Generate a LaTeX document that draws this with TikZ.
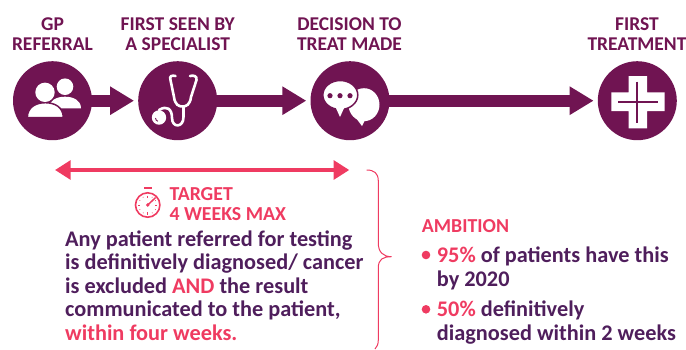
\documentclass[tikz,border=0pt]{standalone}
\usepackage{fontspec}
\setmainfont{Carlito}
\usepackage{xcolor}
\usetikzlibrary{arrows.meta}
\definecolor{plum}{HTML}{701452}
\definecolor{grape}{HTML}{4F1E5C}
\definecolor{coral}{HTML}{EF3B61}
\tikzset{
  stage/.style={circle, fill=plum, minimum size=79pt, inner sep=0pt},
  stagelabel/.style={anchor=base, align=center, text=plum, inner sep=0pt, font=\bfseries\fontsize{19.5}{19.4}\selectfont},
  flow/.style={draw=plum, line width=11.7pt, shorten <=-1.5pt, shorten >=4pt, -{Triangle[length=24pt,width=27pt]}},
  span/.style={draw=coral, line width=4pt, {Triangle[length=15.7pt,width=18.7pt]}-{Triangle[length=15.7pt,width=18.7pt]}},
  bodytext/.style={anchor=base west, align=left, text=grape, inner sep=0pt, font=\bfseries\fontsize{22.3}{23.4}\selectfont},
  headtext/.style={anchor=base west, align=left, text=coral, inner sep=0pt, font=\bfseries\fontsize{19.8}{20}\selectfont},
  dot/.style={circle, fill=coral, minimum size=8.6pt, inner sep=0pt}
}
\begin{document}
\begin{tikzpicture}[x=1pt, y=-1pt]
  \useasboundingbox (0,0) rectangle (686,349);

  \node[stage] (gp) at (52.5,100.7) {};
  \node[stage] (specialist) at (177.7,100.7) {};
  \node[stage] (decision) at (350,100.7) {};
  \node[stage] (treatment) at (637.3,100.7) {};

  \node[stagelabel] (gplabel) at (52.5,50) {GP\\REFERRAL};
  \node[stagelabel] (specialistlabel) at (177.7,50) {FIRST SEEN BY\\A SPECIALIST};
  \node[stagelabel] (decisionlabel) at (349.5,50) {DECISION TO\\TREAT MADE};
  \node[stagelabel] (treatmentlabel) at (637,50) {FIRST\\TREATMENT};

  \draw[flow] (gp) -- (specialist);
  \draw[flow] (specialist) -- (decision);
  \draw[flow] (decision) -- (treatment);

  % people
  \fill[white] (65,86.7) circle (8.3);
  \fill[white] (81,108.3) .. controls (81,100) and (73,96.7) .. (65,96.7) .. controls (57,96.7) and (49,100) .. (49,108.3) -- cycle;
  \fill[white, draw=plum, line width=1.5pt] (27.3,117.7) .. controls (27.3,107) and (36,102.7) .. (45.3,102.7) .. controls (54.6,102.7) and (63.3,107) .. (63.3,117.7) -- cycle;
  \fill[plum] (26,117.7) rectangle (65,120);
  \fill[white] (45,92.3) circle (9.7);

  % stethoscope
  \draw[white, line width=2.6pt, line cap=round] (175.5,76) .. controls (172,75) and (169,76) .. (170.5,80) -- (174,97) .. controls (175,105) and (179,106.5) .. (182.5,106.5) .. controls (186,106.5) and (190,105) .. (191,97) -- (196.5,80) .. controls (197,76) and (194,75) .. (190,76);
  \draw[white, line width=2.6pt, line cap=round] (183.5,106.5) -- (183.5,117) .. controls (183.5,128) and (172,128) .. (172,118) .. controls (172,109) and (167,105) .. (159,110);
  \fill[white] (159,117.5) circle (7.2);
  \draw[plum, line width=0.9pt] (155.5,118) arc (180:110:3.5);

  % chat
  \fill[white] (364,104.7) ellipse (15.5 and 16.5);
  \fill[white] (356,118) -- (362,126) -- (366,118) -- cycle;
  \fill[white, draw=plum, line width=1.5pt] (340.3,95) ellipse (17.5 and 14.5);
  \fill[white] (335,106) -- (340,117) -- (345,106) -- cycle;
  \foreach \px in {330,340,350}
    \fill[plum] (\px,95.7) circle (2.6);

  % cross
  \fill[white] (628.7,76) -- (647,76) -- (647,92.3) -- (664.7,92.3) -- (664.7,111) -- (647,111) -- (647,128.3) -- (628.7,128.3) -- (628.7,111) -- (611.3,111) -- (611.3,92.3) -- (628.7,92.3) -- cycle;
  \draw[plum, line width=2pt] (637.3,81.7) -- (637.3,123.3);
  \draw[plum, line width=2pt] (618,101.5) -- (658,101.5);

  \coordinate (spanleft) at (55,170);
  \coordinate (spanright) at (349.3,170);
  \draw[span] (spanleft) -- (spanright);

  % stopwatch
  \draw[coral, line width=1.6pt] (147.7,205) circle (12.2);
  \draw[coral, line width=1.8pt] (144.3,188.3) -- (151.7,188.3);
  \foreach \tick in {0,90,180,270}
    \draw[coral, line width=0.9pt] (147.7,205) ++(\tick:9.5) -- ++(\tick:-2.2);
  \foreach \tick in {30,60,120,150,210,240,300,330}
    \fill[coral] (147.7,205) ++(\tick:9) circle (0.5);
  \draw[coral, line width=1.5pt] (147.7,205) -- (155.7,197.5);
  \fill[coral] (147.7,205) circle (1.9);

  \node[headtext] (target) at (169.3,220) {TARGET\\4 WEEKS MAX};
  \node[bodytext] (goal) at (65,340) {Any patient referred for testing\\is definitively diagnosed/ cancer\\is excluded \textcolor{coral}{AND} the result\\communicated to the patient,\\\textcolor{coral}{within four weeks.}};

  \draw[coral, line width=1pt] (366.7,170) .. controls (374,170) and (378.3,173) .. (378.3,181) -- (378.3,243) .. controls (378.3,252) and (383,256.7) .. (391.7,256.7) .. controls (383,256.7) and (378.3,259) .. (378.3,268) -- (378.3,340) .. controls (378.3,344) and (377,347) .. (375,349);

  \node[headtext] (ambition) at (421.7,232.7) {AMBITION};
  \node[dot] (dotone) at (426,255) {};
  \node[dot] (dottwo) at (426,309.3) {};
  \node[bodytext] (ambitionone) at (436.7,286) {\textcolor{coral}{95\%} of patients have this\\by 2020};
  \node[bodytext] (ambitiontwo) at (436.7,340) {\textcolor{coral}{50\%} definitively\\diagnosed within 2 weeks};
\end{tikzpicture}
\end{document}
